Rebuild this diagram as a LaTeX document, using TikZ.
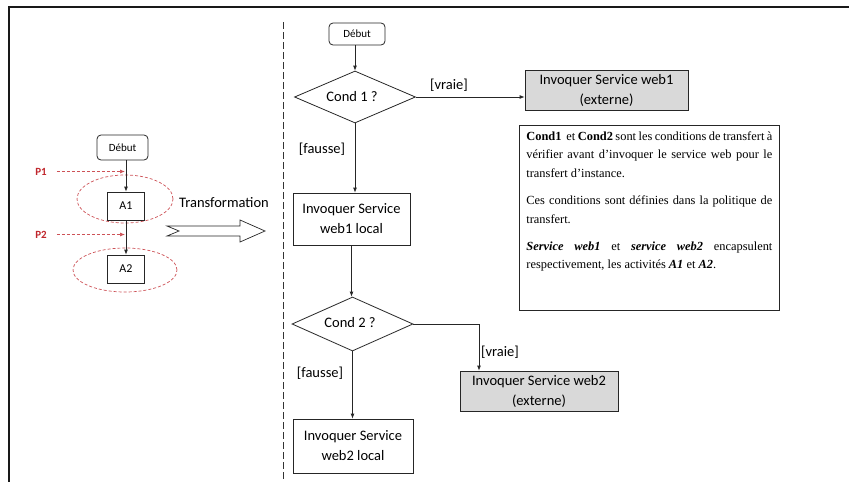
\documentclass[tikz,border=0pt]{standalone}
\usepackage{fontspec}
\setmainfont{Carlito}
\newfontfamily\tnr{Liberation Serif}
\usetikzlibrary{shapes.geometric,arrows.meta}
\definecolor{pred}{HTML}{C0272D}
\definecolor{boxgray}{HTML}{D9D9D9}
\begin{document}
\begin{tikzpicture}[x=1pt,y=-1pt,
  every node/.style={inner sep=0pt, font=\fontsize{14.5}{20}\selectfont},
  proc/.style={draw=black!85, line width=0.8pt, align=center},
  extbox/.style={proc, fill=boxgray},
  debut/.style={draw=black!85, line width=0.8pt, rounded corners=4pt, font=\fontsize{11}{13}\selectfont},
  dec/.style={diamond, draw=black!85, line width=0.8pt, inner sep=0pt},
  arr/.style={draw=black!85, line width=0.8pt, -{Latex[length=5pt,width=4pt]}},
  redarr/.style={draw=pred!80, line width=0.7pt, dash pattern=on 3pt off 2pt, -{Latex[length=5pt,width=4pt]}},
  redell/.style={ellipse, draw=pred!80, line width=0.7pt, dash pattern=on 3pt off 2pt},
  plab/.style={text=pred, font=\bfseries\fontsize{11}{13}\selectfont},
  lab/.style={font=\fontsize{14.5}{18}\selectfont}
]
\useasboundingbox (0,0) rectangle (849,482);
% frame
\draw[line width=2.2pt, black!90] (9,482) -- (9,7) -- (849,7);

% ---------- left part ----------
\node[debut, minimum width=51pt, minimum height=25pt] (ldeb) at (122.5,147.5) {Début};
\node[proc, minimum width=37pt, minimum height=28pt, font=\fontsize{12}{14}\selectfont] (a1) at (126,206) {A1};
\node[proc, minimum width=37pt, minimum height=28pt, font=\fontsize{12}{14}\selectfont] (a2) at (126,269) {A2};
\node[redell, minimum width=96pt, minimum height=48pt] (e1) at (125,199) {};
\node[redell, minimum width=104pt, minimum height=44pt] (e2) at (125,270) {};
\draw[arr] (ldeb.south -| a1.north) -- (a1.north);
\draw[arr] (a1.south) -- (a2.north);
\node[plab] (p1) at (41,171.5) {P1};
\node[plab] (p2) at (41,234.5) {P2};
\coordinate (p1e) at (125,171.5);
\coordinate (p2e) at (125,234.5);
\draw[redarr] ([xshift=10pt]p1.east) -- (p1e);
\draw[redarr] ([xshift=10pt]p2.east) -- (p2e);
\node[lab] (trans) at (224,203) {Transformation};
\draw[line width=0.7pt, black!85] (167,226) -- (240,226) -- (240,220) -- (265,231)
  -- (240,242) -- (240,236) -- (167,236) -- (179,231) -- cycle;

% separator
\draw[line width=0.7pt, black!80, dash pattern=on 7pt off 3pt] (283,22) -- (283,482);

% ---------- right part ----------
\node[debut, minimum width=56pt, minimum height=22pt] (rdeb) at (357,34) {Début};
\node[dec, minimum width=121pt, minimum height=52pt] (c1) at (355,97) {};
\node[lab] (c1t) at (352,97) {Cond 1 ?};
\draw[arr] (c1.north |- rdeb.south) -- (c1.north);
\node[extbox, minimum width=163pt, minimum height=40pt] (ext1) at (606.5,90) {Invoquer Service web1\\(externe)};
\draw[arr] (c1.east) -- (c1.east -| ext1.west);
\node[lab] (v1) at (449,85) {[vraie]};
\node[proc, minimum width=117pt, minimum height=52pt] (loc1) at (351.5,219) {Invoquer Service\\web1 local};
\draw[arr] (c1.south) -- (c1.south |- loc1.north);
\node[lab] (f1) at (322,149) {[fausse]};
\node[dec, minimum width=121pt, minimum height=54pt] (c2) at (352.5,324) {};
\node[lab] (c2t) at (350,323) {Cond 2 ?};
\draw[arr] (loc1.south) -- (loc1.south |- c2.north);
\node[extbox, minimum width=158pt, minimum height=40pt] (ext2) at (539,391) {Invoquer Service web2\\(externe)};
\draw[arr] (c2.east) -| ([xshift=-60pt]ext2.north);
\node[lab, anchor=west] (v2) at (481,352) {[vraie]};
\node[proc, minimum width=120pt, minimum height=54pt] (loc2) at (353,446) {Invoquer Service\\web2 local};
\draw[arr] (c2.south) -- (c2.south |- loc2.north);
\node[lab] (f2) at (320,373) {[fausse]};

% ---------- note ----------
\node[draw=black!85, line width=0.8pt, anchor=north west, inner xsep=7pt, inner ysep=6pt] (note) at (519,125)
{\parbox[c][173pt][t]{246pt}{\tnr\fontsize{12.4}{18.6}\selectfont\setlength{\parskip}{8.5pt}%
\textbf{Cond1}\ \ et \textbf{Cond2} sont les conditions de transfert à\linebreak
vérifier avant d’invoquer le service web pour le\linebreak
transfert d’instance.\par
Ces conditions sont définies dans la politique de\linebreak
transfert.\par
\textbf{\textit{Service web1}} et \textbf{\textit{service web2}} encapsulent\linebreak
respectivement, les activités \textbf{\textit{A1}} et \textbf{\textit{A2}}.}};
\end{tikzpicture}
\end{document}
